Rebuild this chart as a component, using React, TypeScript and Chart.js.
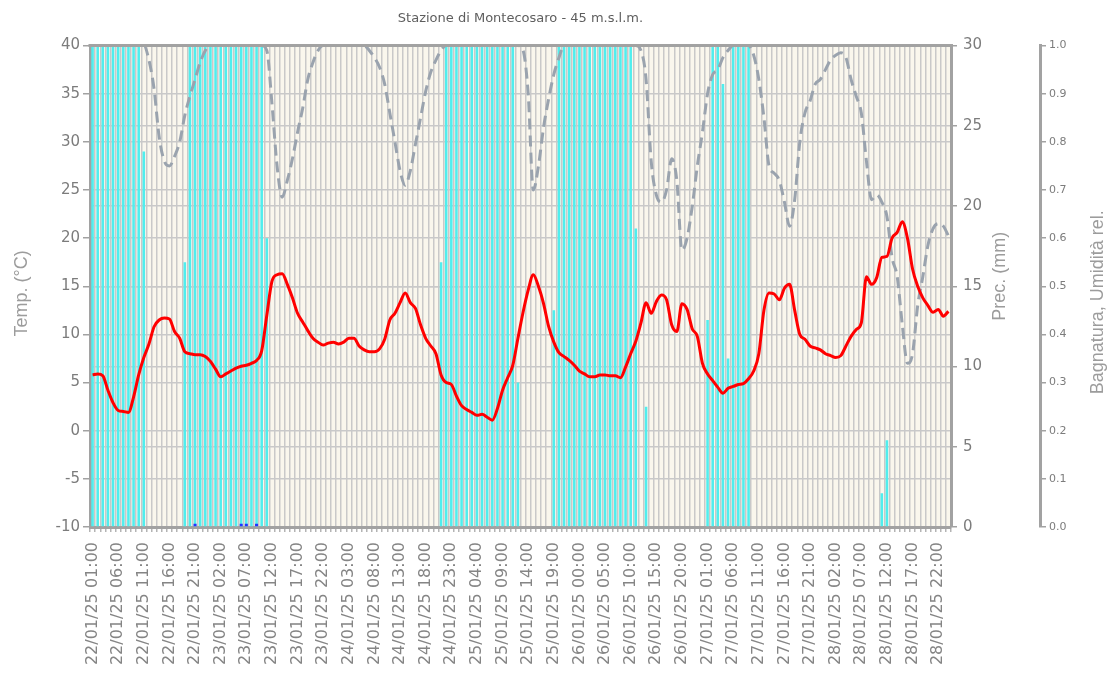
import React, { useEffect, useRef } from 'react';
import { Chart, registerables } from 'chart.js';

Chart.register(...registerables);

const CANVAS_W = 1108;
const CANVAS_H = 682;

const chartTitle = 'Stazione di Montecosaro - 45 m.s.l.m.';
const tempTitle = 'Temp. (°C)';
const precTitle = 'Prec. (mm)';
const humTitle = 'Bagnatura, Umidità rel.';

// hourly categories: 22/01/25 01:00 ... 29/01/25 00:00
const firstDay = 22;
const firstHour = 1;
const hourCount = 168;
const categories: string[] = [];
for (let k = 0; k < hourCount; k++) {
  const t = firstHour + k;
  const day = firstDay + Math.floor(t / 24);
  const hour = t % 24;
  categories.push(`${day}/01/25 ${String(hour).padStart(2, '0')}:00`);
}
const labelEvery = 5;

// Temperature (°C)
const temperature = [
  5.8, 5.9, 5.7, 4.2, 2.9, 2.1, 2.0, 1.9, 3.5, 5.8,
  7.6, 9.0, 10.8, 11.5, 11.7, 11.6, 10.3, 9.6, 8.2, 8.0,
  7.9, 7.9, 7.7, 7.2, 6.4, 5.6, 5.9, 6.2, 6.5, 6.7,
  6.8, 7.0, 7.3, 8.3, 12.0, 15.5, 16.2, 16.3, 15.2, 13.8,
  12.2, 11.3, 10.4, 9.6, 9.2, 8.9, 9.1, 9.2, 9.0, 9.2,
  9.6, 9.6, 8.8, 8.4, 8.2, 8.2, 8.5, 9.5, 11.5, 12.2,
  13.3, 14.3, 13.3, 12.7, 11.0, 9.6, 8.8, 8.0, 5.8, 5.0,
  4.8, 3.6, 2.6, 2.2, 1.9, 1.6, 1.7, 1.4, 1.1, 2.3,
  4.2, 5.5, 6.8, 9.6, 12.3, 14.6, 16.2, 15.0, 13.2, 10.8,
  9.2, 8.1, 7.7, 7.3, 6.8, 6.2, 5.9, 5.6, 5.6, 5.8,
  5.8, 5.7, 5.7, 5.5, 6.6, 8.0, 9.3, 11.2, 13.3, 12.2,
  13.4, 14.1, 13.6, 11.0, 10.3, 13.2, 12.6, 10.6, 9.8, 7.0,
  5.9, 5.2, 4.5, 3.9, 4.4, 4.6, 4.8, 4.9, 5.4, 6.2,
  8.0, 12.5, 14.3, 14.2, 13.6, 14.8, 15.2, 12.5, 10.0, 9.5,
  8.8, 8.6, 8.4, 8.0, 7.8, 7.6, 7.8, 8.8, 9.8, 10.5,
  11.2, 16.0, 15.2, 15.9, 18.0, 18.1, 20.0, 20.6, 21.7, 20.0,
  16.8, 15.0, 13.8, 13.0, 12.3, 12.6, 11.9, 12.4,
];

// Relative humidity (fraction)
const humidity = [
  1, 1, 1, 1, 1, 1, 1, 1, 1, 1,
  1, 0.97, 0.91, 0.81, 0.76, 0.75, 0.77, 0.80, 0.855, 0.895,
  0.93, 0.965, 0.99, 1, 1, 1, 1, 1, 1, 1,
  1, 1, 1, 1, 0.99, 0.88, 0.75, 0.685, 0.72, 0.765,
  0.82, 0.87, 0.93, 0.965, 0.99, 1, 1, 1, 1, 1,
  1, 1, 1, 1, 0.99, 0.975, 0.955, 0.92, 0.86, 0.80,
  0.74, 0.71, 0.74, 0.795, 0.85, 0.905, 0.945, 0.97, 0.99, 1,
  1, 1, 1, 1, 1, 1, 1, 1, 1, 1,
  1, 1, 1, 1, 0.99, 0.90, 0.70, 0.75, 0.83, 0.89,
  0.94, 0.975, 1, 1, 1, 1, 1, 1, 1, 1,
  1, 1, 1, 1, 1, 1, 1, 0.99, 0.93, 0.76,
  0.69, 0.675, 0.70, 0.765, 0.72, 0.575, 0.60, 0.665, 0.75, 0.82,
  0.90, 0.94, 0.95, 0.975, 0.99, 1, 1, 1, 1, 0.98,
  0.93, 0.85, 0.75, 0.735, 0.72, 0.675, 0.625, 0.68, 0.80, 0.86,
  0.885, 0.92, 0.93, 0.95, 0.97, 0.98, 0.985, 0.975, 0.93, 0.895,
  0.86, 0.76, 0.68, 0.69, 0.675, 0.645, 0.56, 0.52, 0.42, 0.34,
  0.36, 0.46, 0.52, 0.585, 0.62, 0.63, 0.625, 0.605,
];

// Leaf wetness (fraction of the hour)
const wetness = [
  1, 1, 1, 1, 1, 1, 1, 1, 1, 1,
  0.78, 0, 0, 0, 0, 0, 0, 0, 0.55, 1,
  1, 1, 1, 1, 1, 1, 1, 1, 1, 1,
  1, 1, 1, 1, 0.6, 0, 0, 0, 0, 0,
  0, 0, 0, 0, 0, 0, 0, 0, 0, 0,
  0, 0, 0, 0, 0, 0, 0, 0, 0, 0,
  0, 0, 0, 0, 0, 0, 0, 0, 0.55, 1,
  1, 1, 1, 1, 1, 1, 1, 1, 1, 1,
  1, 1, 1, 0.3, 0, 0, 0, 0, 0, 0,
  0.45, 1, 1, 1, 1, 1, 1, 1, 1, 1,
  1, 1, 1, 1, 1, 1, 0.62, 0, 0.25, 0,
  0, 0, 0, 0, 0, 0, 0, 0, 0, 0,
  0.43, 1, 1, 0.92, 0.35, 1, 1, 1, 1, 0,
  0, 0, 0, 0, 0, 0, 0, 0, 0, 0,
  0, 0, 0, 0, 0, 0, 0, 0, 0, 0,
  0, 0, 0, 0, 0.07, 0.18, 0, 0, 0, 0,
  0, 0, 0, 0, 0, 0, 0, 0,
];

// Precipitation (mm)
const precipitation = [
  0, 0, 0, 0, 0, 0, 0, 0, 0, 0,
  0, 0, 0, 0, 0, 0, 0, 0, 0, 0,
  0.2, 0, 0, 0, 0, 0, 0, 0, 0, 0.2,
  0.2, 0, 0.2, 0, 0, 0, 0, 0, 0, 0,
  0, 0, 0, 0, 0, 0, 0, 0, 0, 0,
  0, 0, 0, 0, 0, 0, 0, 0, 0, 0,
  0, 0, 0, 0, 0, 0, 0, 0, 0, 0,
  0, 0, 0, 0, 0, 0, 0, 0, 0, 0,
  0, 0, 0, 0, 0, 0, 0, 0, 0, 0,
  0, 0, 0, 0, 0, 0, 0, 0, 0, 0,
  0, 0, 0, 0, 0, 0, 0, 0, 0, 0,
  0, 0, 0, 0, 0, 0, 0, 0, 0, 0,
  0, 0, 0, 0, 0, 0, 0, 0, 0, 0,
  0, 0, 0, 0, 0, 0, 0, 0, 0, 0,
  0, 0, 0, 0, 0, 0, 0, 0, 0, 0,
  0, 0, 0, 0, 0, 0, 0, 0, 0, 0,
  0, 0, 0, 0, 0, 0, 0, 0,
];

const tempRange = { min: -10, max: 40, step: 5 };
const precRange = { min: 0, max: 30, step: 5 };
const humRange = { min: 0, max: 1, step: 0.1 };

const GRID = '#c9c9c9';
const AXIS = '#a2a2a2';
const TICK_TEXT = '#7c7c7c';
const TITLE_TEXT = '#9c9c9c';
const NUM_FONT = 'DejaVu Sans';

const plotBackground = {
  id: 'plotBackground',
  beforeDraw(chart: any) {
    const { ctx, chartArea: a } = chart;
    ctx.save();
    ctx.fillStyle = '#faf7ed';
    ctx.fillRect(a.left, a.top, a.right - a.left, a.bottom - a.top);
    ctx.restore();
  },
};

const topFrame = {
  id: 'topFrame',
  afterDatasetsDraw(chart: any) {
    const { ctx, chartArea: a } = chart;
    ctx.save();
    ctx.strokeStyle = AXIS;
    ctx.lineWidth = 3;
    ctx.beginPath();
    ctx.moveTo(a.left - 1.5, a.top);
    ctx.lineTo(a.right + 1.5, a.top);
    ctx.stroke();
    ctx.restore();
  },
};

const axisTitles = {
  id: 'axisTitles',
  afterDraw(chart: any) {
    const { ctx, chartArea: a, scales } = chart;
    const midY = (a.top + a.bottom) / 2;
    const items: [string, number, number][] = [
      [tempTitle, scales.y.left + 22, midY + 7],
      [precTitle, scales.prec.left + 49, midY - 10],
      [humTitle, scales.hum.right - 10, midY + 16],
    ];
    ctx.save();
    ctx.fillStyle = TITLE_TEXT;
    ctx.font = '18px "Liberation Sans"';
    ctx.textAlign = 'center';
    ctx.textBaseline = 'middle';
    for (const [text, x, y] of items) {
      ctx.save();
      ctx.translate(x, y);
      ctx.rotate(-Math.PI / 2);
      ctx.fillText(text, 0, 0);
      ctx.restore();
    }
    ctx.restore();
  },
};

export default function App() {
  const canvasRef = useRef<HTMLCanvasElement | null>(null);

  useEffect(() => {
    const canvas = canvasRef.current;
    if (!canvas) return;
    const chart = new Chart(canvas, {
      type: 'bar',
      data: {
        labels: categories,
        datasets: [
          {
            type: 'line',
            label: 'Temp.',
            data: temperature,
            yAxisID: 'y',
            borderColor: '#ff0000',
            borderWidth: 3,
            pointRadius: 0,
            cubicInterpolationMode: 'monotone',
            order: 0,
          } as any,
          {
            type: 'line',
            label: 'Umidità rel.',
            data: humidity,
            yAxisID: 'hum',
            borderColor: '#9aa3ae',
            borderWidth: 3,
            borderDash: [11, 6],
            pointRadius: 0,
            cubicInterpolationMode: 'monotone',
            order: 1,
          } as any,
          {
            type: 'bar',
            label: 'Prec.',
            data: precipitation,
            yAxisID: 'prec',
            backgroundColor: '#2233ff',
            barPercentage: 0.6,
            categoryPercentage: 1,
            grouped: false,
            order: 2,
          } as any,
          {
            type: 'bar',
            label: 'Bagnatura',
            data: wetness,
            yAxisID: 'hum',
            backgroundColor: '#50eeee',
            barPercentage: 0.5,
            categoryPercentage: 1,
            grouped: false,
            order: 3,
          } as any,
        ],
      },
      options: {
        responsive: false,
        animation: false,
        events: [],
        layout: { padding: 0 },
        plugins: {
          legend: { display: false },
          tooltip: { enabled: false },
          title: {
            display: true,
            text: chartTitle,
            fullSize: false,
            color: '#5e5e5e',
            font: { family: NUM_FONT, size: 13, weight: 'normal' },
            padding: { top: 11, bottom: 19 },
          },
        },
        scales: {
          x: {
            type: 'category',
            offset: true,
            grid: {
              offset: true,
              color: GRID,
              lineWidth: 1.5,
              tickLength: 5,
              tickColor: '#b4b4b4',
            },
            border: { color: AXIS, width: 3 },
            ticks: {
              autoSkip: false,
              minRotation: 90,
              maxRotation: 90,
              padding: 10,
              color: '#858585',
              font: { family: NUM_FONT, size: 16 },
              callback: (_v: any, i: number) => (i % labelEvery === 0 ? categories[i] : ''),
            },
            afterFit: (s: any) => {
              s.height = 155;
            },
          },
          y: {
            position: 'left',
            min: tempRange.min,
            max: tempRange.max,
            ticks: {
              stepSize: tempRange.step,
              color: TICK_TEXT,
              padding: 3,
              font: { family: NUM_FONT, size: 15 },
            },
            grid: { color: GRID, lineWidth: 1.5, tickLength: 7, tickColor: AXIS },
            border: { color: AXIS, width: 3 },
            afterFit: (s: any) => {
              s.width = 90;
            },
          },
          prec: {
            position: 'right',
            weight: 0,
            min: precRange.min,
            max: precRange.max,
            ticks: {
              stepSize: precRange.step,
              color: TICK_TEXT,
              padding: 6,
              font: { family: NUM_FONT, size: 15 },
            },
            grid: { color: GRID, lineWidth: 1.5, tickLength: 6, tickColor: AXIS },
            border: { color: AXIS, width: 3 },
            afterFit: (s: any) => {
              s.width = 89;
            },
          },
          hum: {
            position: 'right',
            weight: 1,
            min: humRange.min,
            max: humRange.max,
            ticks: {
              stepSize: humRange.step,
              color: TICK_TEXT,
              padding: 3,
              font: { family: NUM_FONT, size: 11 },
              callback: (v: any) => Number(v).toFixed(1),
            },
            grid: { drawOnChartArea: false, lineWidth: 1.5, tickLength: 6, tickColor: AXIS },
            border: { color: AXIS, width: 3 },
            afterFit: (s: any) => {
              s.width = 68;
            },
          },
        },
      } as any,
      plugins: [plotBackground, topFrame, axisTitles],
    });
    return () => chart.destroy();
  }, []);

  return (
    <div style={{ position: 'fixed', left: 0, top: 0, width: CANVAS_W, height: CANVAS_H, background: '#fff' }}>
      <canvas ref={canvasRef} width={CANVAS_W} height={CANVAS_H} style={{ display: 'block' }} />
    </div>
  );
}
